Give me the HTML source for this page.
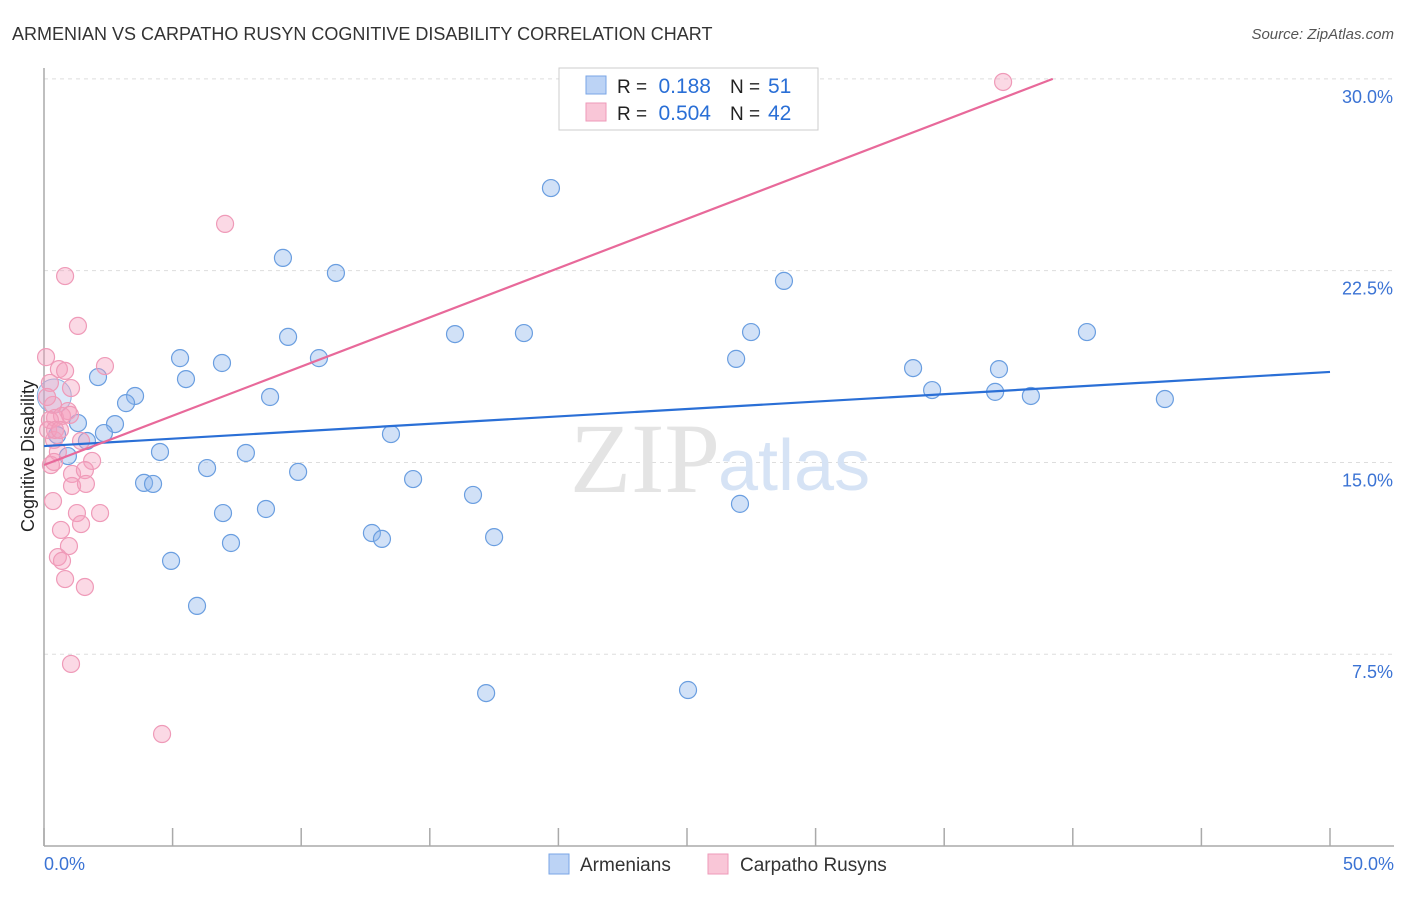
<!DOCTYPE html>
<html><head><meta charset="utf-8"><style>
body{margin:0;background:#fff;font-family:"Liberation Sans",sans-serif}
</style></head><body>
<svg id="c" width="1406" height="892" xmlns="http://www.w3.org/2000/svg"></svg>
<script>
const blueX=[], blueY=[], pinkX=[], pinkY=[];
const bluePx=[[551,188],[283,258],[336,273],[784,281],[288,337],[455,334],[524,333],[751,332],[1087,332],[180,358],[319,358],[222,363],[736,359],[98,377],[186,379],[913,368],[999,369],[932,390],[995,392],[1031,396],[1165,399],[135,396],[270,397],[126,403],[78,423],[115,424],[104,433],[391,434],[87,441],[68,456],[160,452],[246,453],[207,468],[298,472],[413,479],[144,483],[153,484],[473,495],[740,504],[266,509],[223,513],[372,533],[382,539],[494,537],[231,543],[171,561],[197,606],[486,693],[688,690],[57,435]];
const pinkPx=[[1003,82],[225,224],[65,276],[78,326],[46,357],[105,366],[59,369],[65,371],[50,383],[71,388],[53,405],[68,411],[47,397],[55,418],[62,416],[54,440],[81,441],[58,452],[92,461],[51,465],[72,474],[85,470],[72,486],[86,484],[53,501],[77,513],[100,513],[61,530],[81,524],[69,546],[58,557],[62,561],[65,579],[85,587],[71,664],[162,734],[50,420],[48,430],[55,430],[60,430],[70,415],[54,462]];
// values in %
bluePx.forEach(p=>{blueX.push(+((p[0]-44)/25.72).toFixed(2));blueY.push(+((846-p[1])/25.57).toFixed(2));});
pinkPx.forEach(p=>{pinkX.push(+((p[0]-44)/25.72).toFixed(2));pinkY.push(+((846-p[1])/25.57).toFixed(2));});
const blueTrend=[15.64,18.54]; // y at x=0 and x=50
const pinkTrend=[14.9,0.385]; // intercept, slope
const yTicks=[7.5,15,22.5,30];
const yTickLabels=["7.5%","15.0%","22.5%","30.0%"];
const NS="http://www.w3.org/2000/svg";
const svg=document.getElementById('c');
const X=v=>44+v*25.72, Y=v=>846-v*25.57;
function mk(t,a,txt){const e=document.createElementNS(NS,t);for(const k in a)e.setAttribute(k,a[k]);if(txt!==undefined)e.textContent=txt;svg.appendChild(e);return e;}
let e;
e=mk('text',{x:12,y:40,'font-size':18,fill:'#333'},'ARMENIAN VS CARPATHO RUSYN COGNITIVE DISABILITY CORRELATION CHART');

e=mk('text',{x:1394,y:39,'font-size':15,fill:'#555','text-anchor':'end','font-style':'italic'},'Source: ZipAtlas.com');

yTicks.forEach((t,i)=>{
 e=mk('line',{x1:44,x2:1394,y1:Y(t),y2:Y(t),stroke:'#ddd','stroke-dasharray':'4,4'});
 
 e=mk('text',{x:1393,y:Y(t)+24,'font-size':18,fill:'#3b73d4','text-anchor':'end'},yTickLabels[i]);
 
});
e=mk('line',{x1:44,x2:44,y1:68,y2:846,stroke:'#aaa','stroke-width':1.5});

e=mk('line',{x1:44,x2:1394,y1:846,y2:846,stroke:'#aaa','stroke-width':1.5});

for(let i=0;i<=10;i++){e=mk('line',{x1:X(i*5),x2:X(i*5),y1:828,y2:846,stroke:'#aaa','stroke-width':1.5});
 }
e=mk('text',{x:44,y:870,'font-size':18,fill:'#3b73d4'},'0.0%');
e=mk('text',{x:1394,y:870,'font-size':18,fill:'#3b73d4','text-anchor':'end'},'50.0%');
e=mk('text',{x:34,y:456,'font-size':18,fill:'#222','text-anchor':'middle',transform:'rotate(-90 34 456)'},'Cognitive Disability');

e=mk('text',{x:720,y:492,'font-size':100,fill:'#e4e4e4','text-anchor':'end','font-family':'Liberation Serif'},'ZIP');

e=mk('text',{x:718,y:490,'font-size':72,fill:'#d6e3f5'},'atlas');

blueX.forEach((v,i)=>{e=mk('circle',{cx:X(v),cy:Y(blueY[i]),r:8.5,fill:'rgba(140,180,235,0.4)',stroke:'#6a9ee0','stroke-width':1.2});
 });
e=mk('circle',{cx:X(0.4),cy:Y(17.6),r:17,fill:'rgba(140,180,235,0.3)',stroke:'#8ab0e0','stroke-width':1});

pinkX.forEach((v,i)=>{e=mk('circle',{cx:X(v),cy:Y(pinkY[i]),r:8.5,fill:'rgba(245,160,190,0.4)',stroke:'#ef9ab8','stroke-width':1.2});
 });
e=mk('line',{x1:X(0),y1:Y(blueTrend[0]),x2:X(50),y2:Y(blueTrend[1]),stroke:'#2a6fd6','stroke-width':2.2});

const pEnd=(30-pinkTrend[0])/pinkTrend[1];
e=mk('line',{x1:X(0),y1:Y(pinkTrend[0]),x2:X(pEnd),y2:Y(30),stroke:'#e8699a','stroke-width':2.2});

// stats legend
e=mk('rect',{x:559,y:68,width:259,height:62,fill:'#fff',stroke:'#ccc'});
e=mk('rect',{x:586,y:76,width:20,height:18,fill:'#bcd3f5',stroke:'#7aa6e6'});
e=mk('rect',{x:586,y:103,width:20,height:18,fill:'#f9c6d7',stroke:'#ee9ab8'});
[[93,'0.188','51'],[120,'0.504','42']].forEach(r=>{
 e=mk('text',{x:617,y:r[0],'font-size':19,fill:'#222'},'R = ');
 e=mk('text',{x:711,y:r[0],'font-size':21,fill:'#2a6fd6','text-anchor':'end'},r[1]);
 e=mk('text',{x:730,y:r[0],'font-size':19,fill:'#222'},'N = ');
 e=mk('text',{x:768,y:r[0],'font-size':21,fill:'#2a6fd6'},r[2]);
});
// bottom legend
e=mk('rect',{x:549,y:854,width:20,height:20,fill:'#bcd3f5',stroke:'#7aa6e6'});
e=mk('text',{x:580,y:871,'font-size':19,fill:'#333'},'Armenians');
e=mk('rect',{x:708,y:854,width:20,height:20,fill:'#f9c6d7',stroke:'#ee9ab8'});
e=mk('text',{x:740,y:871,'font-size':19,fill:'#333'},'Carpatho Rusyns');
</script>
</body></html>
